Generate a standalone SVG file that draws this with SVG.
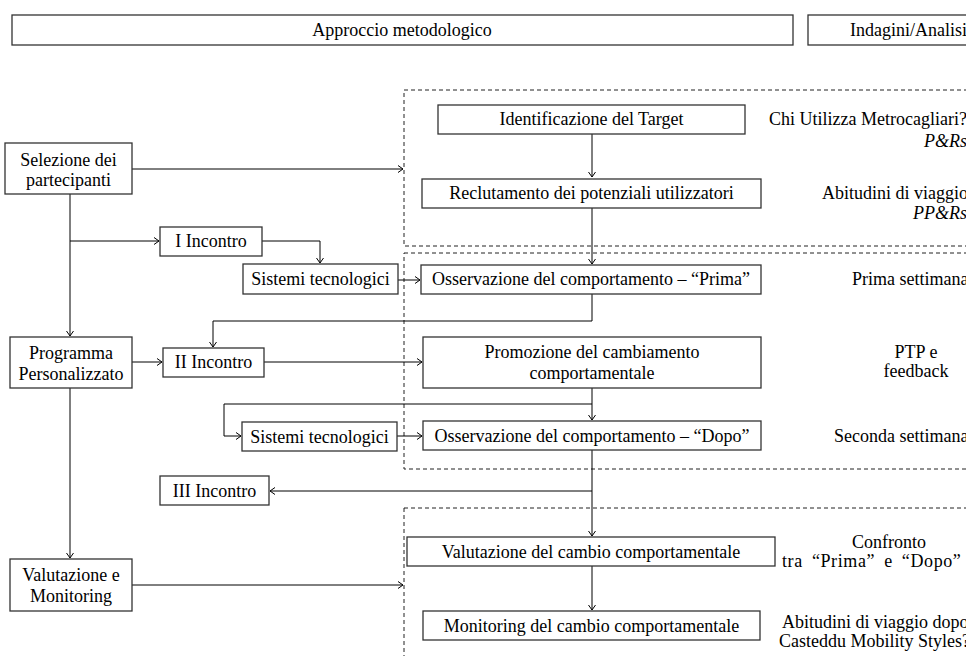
<svg xmlns="http://www.w3.org/2000/svg" width="966" height="656" viewBox="0 0 966 656">
  <defs>
    <marker id="arrow" markerUnits="userSpaceOnUse" markerWidth="10" markerHeight="10" refX="6" refY="4" orient="auto" overflow="visible">
      <path d="M1,0.5 L6,4 L1,7.5" fill="none" stroke="#000" stroke-width="1"/>
    </marker>
  </defs>
  <style>
    .box { fill: #fff; stroke: #333; stroke-width: 1.3; }
    .zone { fill: none; stroke: #222; stroke-width: 1; stroke-dasharray: 4 3; }
    .t { font-family: "Liberation Serif", "Times New Roman", serif; font-size: 18px; fill: #000; }
    .c { text-anchor: middle; }
    .i { font-style: italic; }
    .wide { word-spacing: 4px; letter-spacing: 0.6px; }
    .wire { fill: none; stroke: #000; stroke-width: 1; marker-end: url(#arrow); }
  </style>
  <rect width="966" height="656" fill="#fff"/>

  <!-- column headers -->
  <g id="header-approccio">
    <rect class="box" x="12" y="15" width="781" height="30"/>
    <text class="t c" x="402" y="36">Approccio metodologico</text>
  </g>
  <g id="header-indagini">
    <rect class="box" x="808" y="15" width="170" height="30"/>
    <text class="t" x="850" y="36">Indagini/Analisi</text>
  </g>

  <!-- dashed phase zones -->
  <g id="zones">
    <rect class="zone" x="404" y="90" width="600" height="156"/>
    <rect class="zone" x="404" y="253" width="600" height="216"/>
    <rect class="zone" x="404" y="508" width="600" height="200"/>
  </g>

  <!-- connectors -->
  <g id="connectors">
    <path class="wire" d="M132,169 H403"/>
    <path class="wire" d="M70,194 V336"/>
    <path class="wire" d="M70,241 H159"/>
    <path class="wire" d="M262,241 H320 V263"/>
    <path class="wire" d="M398,280 H420"/>
    <path class="wire" d="M592,134 V177"/>
    <path class="wire" d="M592,208 V264"/>
    <path class="wire" d="M592,294 V321 H213 V347"/>
    <path class="wire" d="M132,362 H162"/>
    <path class="wire" d="M264,362 H422"/>
    <path class="wire" d="M592,388 V420"/>
    <path class="wire" d="M592,404 H224 V436 H241"/>
    <path class="wire" d="M397,436 H422"/>
    <path class="wire" d="M592,450 V536"/>
    <path class="wire" d="M592,491 H270"/>
    <path class="wire" d="M70,388 V558"/>
    <path class="wire" d="M132,585 H403"/>
    <path class="wire" d="M592,566 V610"/>
  </g>

  <!-- left column -->
  <g id="selezione">
    <rect class="box" x="5" y="143" width="127" height="51"/>
    <text class="t c" x="68.5" y="165.5">Selezione dei</text>
    <text class="t c" x="68.5" y="185.5">partecipanti</text>
  </g>
  <g id="programma">
    <rect class="box" x="10" y="337" width="122" height="51"/>
    <text class="t c" x="71" y="359">Programma</text>
    <text class="t c" x="71" y="380">Personalizzato</text>
  </g>
  <g id="valutazione-monitoring">
    <rect class="box" x="10" y="559" width="122" height="52"/>
    <text class="t c" x="71" y="581">Valutazione e</text>
    <text class="t c" x="71" y="602">Monitoring</text>
  </g>

  <!-- meetings and technology -->
  <g id="incontro-1">
    <rect class="box" x="160" y="227" width="102" height="29"/>
    <text class="t c" x="211" y="247">I Incontro</text>
  </g>
  <g id="sistemi-1">
    <rect class="box" x="243" y="264" width="155" height="30"/>
    <text class="t c" x="320.5" y="285">Sistemi tecnologici</text>
  </g>
  <g id="incontro-2">
    <rect class="box" x="163" y="348" width="101" height="29"/>
    <text class="t c" x="213.5" y="368">II Incontro</text>
  </g>
  <g id="sistemi-2">
    <rect class="box" x="242" y="422" width="155" height="29"/>
    <text class="t c" x="319.5" y="443">Sistemi tecnologici</text>
  </g>
  <g id="incontro-3">
    <rect class="box" x="160" y="476" width="109" height="29"/>
    <text class="t c" x="214.5" y="497">III Incontro</text>
  </g>

  <!-- central process -->
  <g id="identificazione">
    <rect class="box" x="438" y="105" width="307" height="29"/>
    <text class="t c" x="591.5" y="125">Identificazione del Target</text>
  </g>
  <g id="reclutamento">
    <rect class="box" x="422" y="179" width="339" height="29"/>
    <text class="t c" x="591.5" y="199">Reclutamento dei potenziali utilizzatori</text>
  </g>
  <g id="osservazione-prima">
    <rect class="box" x="421" y="265" width="340" height="29"/>
    <text class="t c" x="591" y="285">Osservazione del comportamento – “Prima”</text>
  </g>
  <g id="promozione">
    <rect class="box" x="423" y="337" width="338" height="51"/>
    <text class="t c" x="592" y="358">Promozione del cambiamento</text>
    <text class="t c" x="592" y="379">comportamentale</text>
  </g>
  <g id="osservazione-dopo">
    <rect class="box" x="423" y="421" width="338" height="29"/>
    <text class="t c" x="592" y="442">Osservazione del comportamento – “Dopo”</text>
  </g>
  <g id="valutazione-cambio">
    <rect class="box" x="407" y="537" width="368" height="29"/>
    <text class="t c" x="591" y="558">Valutazione del cambio comportamentale</text>
  </g>
  <g id="monitoring-cambio">
    <rect class="box" x="423" y="611" width="337" height="29"/>
    <text class="t c" x="591.5" y="632">Monitoring del cambio comportamentale</text>
  </g>

  <!-- survey / analysis notes -->
  <g id="note-target">
    <text class="t" x="769" y="125">Chi Utilizza Metrocagliari?</text>
    <text class="t i" x="924" y="147">P&amp;Rs</text>
  </g>
  <g id="note-reclutamento">
    <text class="t" x="822" y="199">Abitudini di viaggio</text>
    <text class="t i" x="913" y="219">PP&amp;Rs</text>
  </g>
  <g id="note-prima">
    <text class="t" x="852" y="285">Prima settimana</text>
  </g>
  <g id="note-ptp">
    <text class="t c" x="916" y="358">PTP e</text>
    <text class="t c" x="916" y="377">feedback</text>
  </g>
  <g id="note-seconda">
    <text class="t" x="834" y="442">Seconda settimana</text>
  </g>
  <g id="note-confronto">
    <text class="t c" x="889" y="548">Confronto</text>
    <text class="t wide" x="782" y="567">tra “Prima” e “Dopo”</text>
  </g>
  <g id="note-monitoring">
    <text class="t" x="782" y="628">Abitudini di viaggio dopo</text>
    <text class="t" x="779" y="647">Casteddu Mobility Styles?</text>
  </g>
</svg>
